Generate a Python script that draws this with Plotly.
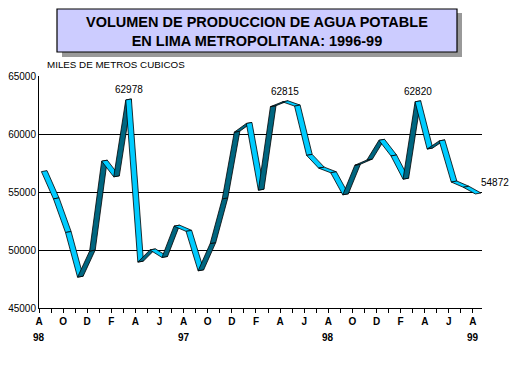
import plotly.graph_objects as go

# ---------------- data ----------------
months_idx = list(range(37))  # Aug 1996 .. Aug 1999
values = [56800, 54450, 51550, 47700, 49950, 57700, 56350, 62978, 49000, 50050,
          49400, 52100, 51650, 48250, 50600, 54450, 60200, 60950, 55200, 62400,
          62815, 62450, 58200, 57100, 56700, 54800, 57350, 57800, 59500, 58150,
          56150, 62820, 58750, 59450, 55900, 55450, 54872]
month_labels = ["A", "O", "D", "F", "A", "J", "A", "O", "D", "F",
                "A", "J", "A", "O", "D", "F", "A", "J", "A"]
year_labels = ["98", "97", "98", "99"]
year_positions = [0, 12, 24, 36]
labelled_points = [7, 20, 31]
last_point = 36
y_ticks = [45000, 50000, 55000, 60000, 65000]

title_text = "VOLUMEN DE PRODUCCION DE AGUA POTABLE<br>EN LIMA METROPOLITANA: 1996-99"
unit_text = "MILES DE METROS CUBICOS"

# ---------------- layout geometry ----------------
W_FIG, H_FIG = 515, 386
ML, MR, MT, MB = 39, 33, 76, 78
PW = W_FIG - ML - MR
PH = H_FIG - MT - MB
X_RANGE = [0, 36.75]
Y_RANGE = [45000, 65000]

def px_x(px):
    return (px - ML) / PW

def px_y(py):
    return (H_FIG - MB - py) / PH

units_per_px_x = (X_RANGE[1] - X_RANGE[0]) / PW
units_per_px_y = (Y_RANGE[1] - Y_RANGE[0]) / PH

front_shift = 2.4 * units_per_px_x
depth_x = 5.6 * units_per_px_x
depth_y = 1.0 * units_per_px_y

CYAN = "#00CCFF"
DARK = "#006680"

fig = go.Figure()

# ribbon segments (3D-style line)
for i in range(len(values) - 1):
    x0 = months_idx[i] + front_shift
    x1 = months_idx[i + 1] + front_shift
    v0, v1 = values[i], values[i + 1]
    xs = [x0, x1, x1 + depth_x, x0 + depth_x, x0]
    ys = [v0 - depth_y / 2, v1 - depth_y / 2, v1 + depth_y / 2, v0 + depth_y / 2, v0 - depth_y / 2]
    color = DARK if v1 > v0 else CYAN
    fig.add_trace(go.Scatter(
        x=xs, y=ys, mode="lines", fill="toself", fillcolor=color,
        line=dict(color="black", width=0.8), hoverinfo="skip", showlegend=False))

annotations = []
for k in labelled_points:
    annotations.append(dict(
        x=months_idx[k] + front_shift + depth_x / 2, y=values[k], xref="x", yref="y",
        text=str(values[k]), showarrow=False, yanchor="bottom", yshift=2,
        font=dict(family="Liberation Sans, Arial", size=10, color="black")))
annotations.append(dict(
    x=months_idx[last_point] + front_shift + depth_x, y=values[last_point], xref="x", yref="y",
    text=str(values[last_point]), showarrow=False, xanchor="left", yanchor="bottom",
    xshift=-2, yshift=3,
    font=dict(family="Liberation Sans, Arial", size=10, color="black")))

for pos, lab in zip(year_positions, year_labels):
    annotations.append(dict(
        x=pos, y=px_y(337), xref="x", yref="paper", text="<b>" + lab + "</b>",
        showarrow=False, yanchor="middle",
        font=dict(family="Liberation Sans, Arial", size=10, color="black")))

annotations.append(dict(
    x=px_x(257), y=px_y(31), xref="paper", yref="paper", text="<b>" + title_text + "</b>",
    showarrow=False, xanchor="center", yanchor="middle",
    font=dict(family="Liberation Sans, Arial", size=14.5, color="black")))
annotations.append(dict(
    x=px_x(45), y=px_y(64), xref="paper", yref="paper", text=unit_text,
    showarrow=False, xanchor="left", yanchor="middle",
    font=dict(family="Liberation Sans, Arial", size=9.8, color="black")))

shapes = [
    dict(type="rect", xref="paper", yref="paper",
         x0=px_x(62), x1=px_x(462), y0=px_y(13), y1=px_y(57),
         fillcolor="#999999", line=dict(width=0), layer="above"),
    dict(type="rect", xref="paper", yref="paper",
         x0=px_x(57), x1=px_x(457), y0=px_y(9), y1=px_y(52),
         fillcolor="#CCCCFF", line=dict(color="black", width=1.2), layer="above"),
]

tick_text = []
for k in months_idx:
    tick_text.append(month_labels[k // 2] if k % 2 == 0 else "")

fig.update_layout(
    width=W_FIG, height=H_FIG,
    margin=dict(l=ML, r=MR, t=MT, b=MB, pad=0, autoexpand=False),
    paper_bgcolor="white", plot_bgcolor="white",
    annotations=annotations, shapes=shapes,
    xaxis=dict(range=X_RANGE, tickmode="array", tickvals=months_idx, ticktext=tick_text,
               ticks="outside", ticklen=4, tickcolor="black", tickwidth=1,
               showgrid=False, zeroline=False, showline=True, linecolor="black", linewidth=1,
               tickfont=dict(family="Liberation Sans, Arial", size=10, color="black", weight="bold"),
               fixedrange=True, automargin=False),
    yaxis=dict(range=Y_RANGE, tickmode="array", tickvals=y_ticks,
               ticktext=[str(v) for v in y_ticks], ticks="",
               showgrid=True, gridcolor="black", gridwidth=1,
               zeroline=False, showline=True, linecolor="black", linewidth=1,
               tickfont=dict(family="Liberation Sans, Arial", size=10, color="black"),
               fixedrange=True, automargin=False),
)

fig.write_html("out.html", post_script="document.body.style.margin='0';",
               config={"displayModeBar": False})
